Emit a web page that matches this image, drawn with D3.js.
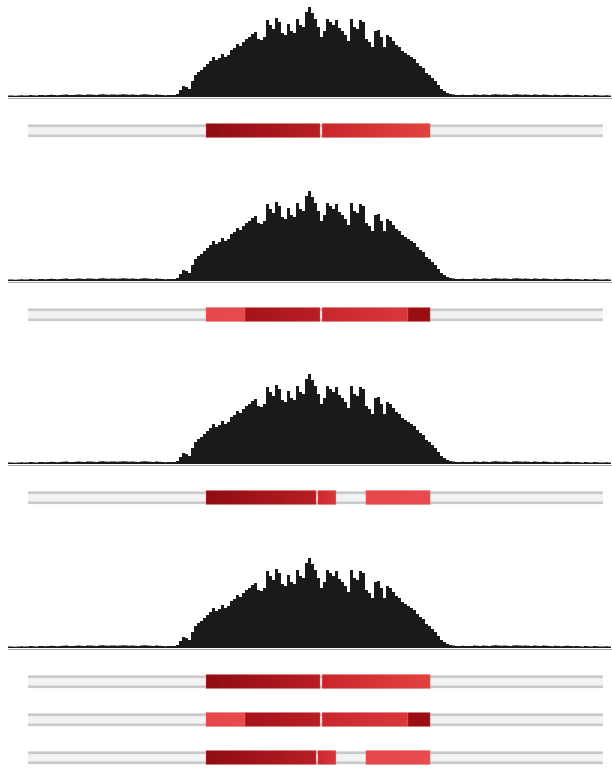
<!DOCTYPE html>
<html>
<head>
<meta charset="utf-8">
<script src="https://cdn.jsdelivr.net/npm/d3@7"></script>
<style>
  html, body { margin: 0; padding: 0; background: #fff; }
  svg { display: block; }
</style>
</head>
<body>
<svg id="chart" width="612" height="769"></svg>
<script>
// ---- DATA ----
// Coverage histogram, one value per bin (bin = 10 position units)
const coverageLeft = [1.5,1.5,1.2,1.5,1.8,1.5,1.5,2,1.8,1.5,2,2,1.8,2,2.2,2,1.8,2,2.2,2.5,2,2,2.2,2.5,2.2,2,2.5,2.5,2.2,2,2.5,2.8,2.5,2.2,2.5,2.5,2.2,2.5,2.8,2.5,2.2,2.5,2.2,2,2.5,2.8,2.5,2.2,2,2.5,2.2,2,1.8,2];
const coverageHump = [2,2,3,7,11,10,8,16,22,25,
  27,30,33,36,40,37,39,43,40,42,
  47,49,53,51,55,58,60,63,65,58,
  57,60,77,72,68,79,75,64,62,73,
  66,64,78,72,70,85,90,84,78,70,
  60,66,78,75,72,77,69,66,62,56,
  78,70,68,77,75,58,55,50,66,67,
  60,50,62,60,56,52,50,46,44,42,
  40,38,34,31,29,24,22,19,16,12,
  8,6,4,3,2.5,2,2,2.2,2,2];
const coverageRight = [2,2.5,2.2,2,2.5,2.2,2,2.5,2.8,2.5,2.2,2.5,2.2,2,2.5,2.8,2.5,2.2,2.5,2.2,2,2.5,2.2,2,2.5,2.2,2,1.8,2.2,2,1.8,2,2.2,2,1.8,2,1.8,1.5,2,1.8,1.5,2,1.8,1.5,1.5,1.8,1.5];
const binSize = 10;
const coverage = coverageLeft.concat(coverageHump, coverageRight);

// Gene model extent (position units)
const geneStart = 67;
const geneEnd = 1983;

// Isoform segments: [start, end, type]
const isoformA = [[660, 1040, "dark"], [1047, 1407, "mid"]];
const isoformB = [[660, 790, "light"], [790, 1040, "darkB"], [1047, 1333, "midB"], [1333, 1407, "darkest"]];
const isoformC = [[660, 1027, "dark"], [1033, 1093, "midB"], [1193, 1407, "light"]];

// Panels: each has a coverage track and the isoforms shown below it
const panels = [[isoformA], [isoformB], [isoformC], [isoformA, isoformB, isoformC]];

// ---- STYLES ----
const segColors = {
  dark:    ["#8f0c11", "#b71e24"],
  mid:     ["#c8262c", "#e2433f"],
  light:   ["#e6474b", "#e84a4e"],
  darkB:   ["#a5131a", "#b81e24"],
  midB:    ["#c8282d", "#d8383c"],
  darkest: ["#9a0d12", "#9a0d12"]
};

// ---- DRAW ----
const svg = d3.select("#chart");
const W = 612;
const nBins = coverage.length;
const x = d3.scaleLinear().domain([0, nBins * binSize]).range([8, 8 + nBins * 3]);
const y = d3.scaleLinear().domain([0, 92]).range([0, 92]);

const panelBase = [97, 281, 464, 648];
const rowOffsets = [33, 71, 109];

const defs = svg.append("defs");
let gradId = 0;
function gradFor(type) {
  const id = "g" + (gradId++);
  const lg = defs.append("linearGradient").attr("id", id).attr("x1", "0%").attr("x2", "100%");
  lg.append("stop").attr("offset", "0%").attr("stop-color", segColors[type][0]);
  lg.append("stop").attr("offset", "100%").attr("stop-color", segColors[type][1]);
  return "url(#" + id + ")";
}

const area = d3.area()
  .x((d, i) => x(i * binSize))
  .y0(0)
  .y1(d => -y(d))
  .curve(d3.curveStepAfter);

panels.forEach((isoforms, pi) => {
  const g = svg.append("g").attr("transform", `translate(0,${panelBase[pi]})`);
  // baseline shadow
  g.append("line")
    .attr("x1", x(0)).attr("x2", W)
    .attr("y1", 1.5).attr("y2", 1.5)
    .attr("stroke", "#a8a8a8").attr("stroke-width", 1.2);
  // coverage
  g.append("path")
    .datum(coverage.concat([coverage[coverage.length - 1]]))
    .attr("d", area)
    .attr("fill", "#1b1a1a");

  isoforms.forEach((iso, ri) => {
    const cy = rowOffsets[ri];
    const tg = g.append("g").attr("transform", `translate(0,${cy})`);
    // gene backbone: two gray rails
    tg.append("rect")
      .attr("x", x(geneStart)).attr("width", x(geneEnd) - x(geneStart))
      .attr("y", -6).attr("height", 12)
      .attr("fill", "#f3f3f3");
    [-5.5, 4.5].forEach(off => {
      tg.append("rect")
        .attr("x", x(geneStart)).attr("width", x(geneEnd) - x(geneStart))
        .attr("y", off).attr("height", 2.6)
        .attr("fill", "#c9c9c9");
    });
    // exon segments
    tg.selectAll("rect.seg")
      .data(iso)
      .enter().append("rect")
      .attr("class", "seg")
      .attr("x", d => x(d[0]))
      .attr("width", d => x(d[1]) - x(d[0]))
      .attr("y", -6.5).attr("height", 14)
      .attr("fill", d => gradFor(d[2]))
      .attr("stroke", "rgba(235,110,110,0.35)")
      .attr("stroke-width", 1);
  });
});
</script>
</body>
</html>
